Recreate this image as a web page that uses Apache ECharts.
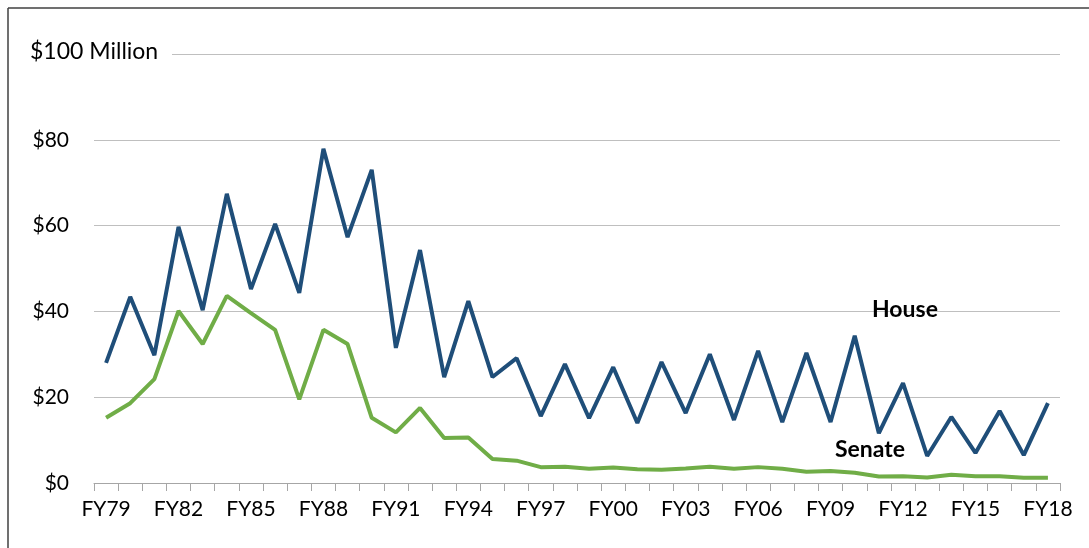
<!DOCTYPE html>
<html>
<head>
<meta charset="utf-8">
<script src="https://cdn.jsdelivr.net/npm/echarts@6/dist/echarts.min.js"></script>
<style>
  html, body { margin: 0; padding: 0; background: #fff; }
  #chart { width: 1089px; height: 548px; }
</style>
</head>
<body>
<div id="chart"></div>
<script>
var years = [];
for (var y = 1979; y <= 2018; y++) {
  years.push("FY" + String(y).slice(2));
}
// $ millions
var house = [28, 43.4, 29.8, 59.7, 40.3, 67.4, 45.2, 60.4, 44.3, 77.9,
  57.3, 73, 31.5, 54.3, 24.7, 42.4, 24.7, 29.1, 15.6, 27.7,
  15.1, 27, 14, 28.2, 16.3, 30, 14.7, 30.8, 14.2, 30.3,
  14.2, 34.3, 11.6, 23.3, 6.3, 15.4, 7, 16.8, 6.5, 18.6];
var senate = [15.2, 18.6, 24.2, 40.1, 32.4, 43.6, 39.6, 35.7, 19.5, 35.7,
  32.4, 15.2, 11.8, 17.5, 10.5, 10.6, 5.6, 5.2, 3.7, 3.8,
  3.3, 3.6, 3.2, 3.1, 3.4, 3.8, 3.3, 3.7, 3.3, 2.6,
  2.8, 2.4, 1.5, 1.6, 1.3, 1.9, 1.6, 1.6, 1.2, 1.2];

var myChart = echarts.init(document.getElementById("chart"));
var font = "Lato, 'Open Sans', sans-serif";

var option = {
  animation: false,
  textStyle: { fontFamily: font },
  grid: { left: 94, right: 29, top: 54, bottom: 65 },
  xAxis: {
    type: "category",
    data: years,
    boundaryGap: true,
    axisLine: { lineStyle: { color: "#a6a6a6", width: 1 } },
    axisTick: { show: true, interval: 0, length: 8, lineStyle: { color: "#a6a6a6" } },
    axisLabel: { interval: 2, color: "#000", fontSize: 21, fontFamily: font, margin: 16 },
    splitLine: { show: false }
  },
  yAxis: {
    type: "value",
    min: 0,
    max: 100,
    interval: 20,
    axisLine: { show: false },
    axisTick: { show: false },
    axisLabel: {
      color: "#000",
      fontSize: 21,
      fontFamily: font,
      margin: 25,
      formatter: function (v) { return v === 100 ? "" : "$" + v; }
    },
    splitLine: { lineStyle: { color: "#bfbfbf", width: 1 } }
  },
  series: [
    {
      name: "House",
      type: "line",
      data: house,
      symbol: "none",
      lineStyle: { color: "#1f4e79", width: 4 },
      z: 3
    },
    {
      name: "Senate",
      type: "line",
      data: senate,
      symbol: "none",
      lineStyle: { color: "#70ad47", width: 4 },
      z: 2
    }
  ],
  graphic: [
    // frame
    { type: "line", shape: { x1: 8, y1: 8, x2: 1089, y2: 8 }, style: { stroke: "#404040", lineWidth: 1.5 } },
    { type: "line", shape: { x1: 8, y1: 8, x2: 8, y2: 548 }, style: { stroke: "#404040", lineWidth: 1.5 } },
    // top label over the gridline
    { type: "rect", shape: { x: 90, y: 48, width: 82, height: 12 }, style: { fill: "#fff" }, z: 10 },
    { type: "text", left: 30, top: 40, z: 11,
      style: { text: "$100 Million", fill: "#000", font: "23px " + font } },
    { type: "text", left: 872, top: 298, z: 11,
      style: { text: "House", fill: "#000", font: "bold 23px " + font } },
    { type: "text", left: 835, top: 438, z: 11,
      style: { text: "Senate", fill: "#000", font: "bold 23px " + font } }
  ]
};
myChart.setOption(option);
</script>
</body>
</html>
